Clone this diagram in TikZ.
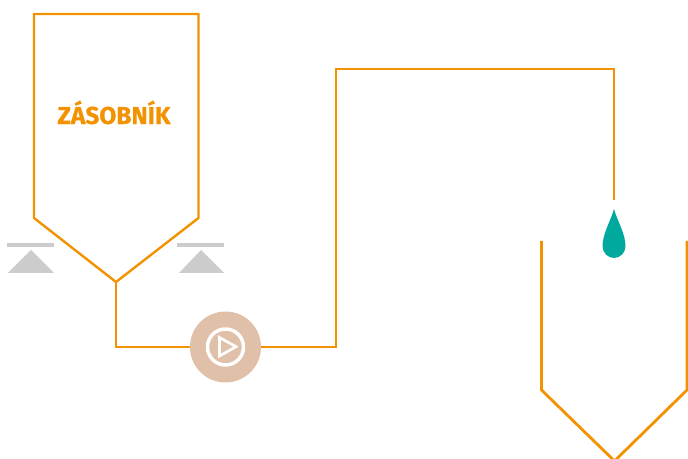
\documentclass[tikz,border=0pt]{standalone}
\usepackage{fontspec}
\setmainfont{Fira Sans}[BoldFeatures={FakeBold=0.6}]
\definecolor{pipeor}{HTML}{F39200}
\definecolor{pumpc}{HTML}{E0C0A8}
\definecolor{dropc}{HTML}{00A99D}
\definecolor{supc}{HTML}{CCCCCC}
\tikzset{
  tankline/.style={draw=pipeor,line width=1.8pt,line join=miter},
  pipeline/.style={draw=pipeor,line width=1.7pt,line join=miter},
  barshape/.style={fill=supc,draw=none},
  pumpbody/.style={circle,fill=pumpc,draw=none,minimum size=53.25pt,inner sep=0pt},
  tanklabel/.style={text=pipeor,font=\fontsize{18.4pt}{20pt}\selectfont\bfseries,inner sep=0pt}
}
\begin{document}
\begin{tikzpicture}[x=0.75pt,y=-0.75pt]
\useasboundingbox (0,0) rectangle (688,459);
% coordinates
\coordinate (outlet) at (116,282);
\coordinate (bend1) at (116,347);
\coordinate (bend2) at (336,347);
\coordinate (bend3) at (336,69);
\coordinate (bend4) at (614,69);
\coordinate (nozzle) at (614,200);
% supports
\fill[barshape] (7,243) rectangle (54,247);
\fill[barshape] (8,273) -- (31,250) -- (54,273) -- cycle;
\fill[barshape] (177,243) rectangle (224,247);
\fill[barshape] (179,273) -- (201,250) -- (224,273) -- cycle;
% pipes
\node[pumpbody] (pump) at (225.5,347) {};
\draw[pipeline] (outlet) -- (bend1) -- (pump);
\draw[pipeline] (pump) -- (bend2) -- (bend3) -- (bend4) -- (nozzle);
% storage tank
\draw[tankline] (34,14) -- (198.5,14) -- (198.5,218) -- (outlet) -- (34,218) -- cycle;
\node[tanklabel] (label) at (114,112.5) {ZÁSOBNÍK};
% pump icon
\draw[white,line width=2.6pt] (pump) circle (18);
\draw[white,line width=2pt,line join=miter] (219.5,337.5) -- (236,346.7) -- (219.5,356) -- cycle;
% drop
\fill[dropc] (614,209) .. controls (617,220) and (625.5,234) .. (625.5,246)
  .. controls (625.5,253) and (620,258) .. (614,258)
  .. controls (608,258) and (602.5,253) .. (602.5,246)
  .. controls (602.5,234) and (611,220) .. (614,209) -- cycle;
% receiving tank
\draw[draw=pipeor,line width=2.1pt,line join=miter] (541.5,241) -- (541.5,390) -- (614.5,461) -- (687,390) -- (687,241);
\end{tikzpicture}
\end{document}
